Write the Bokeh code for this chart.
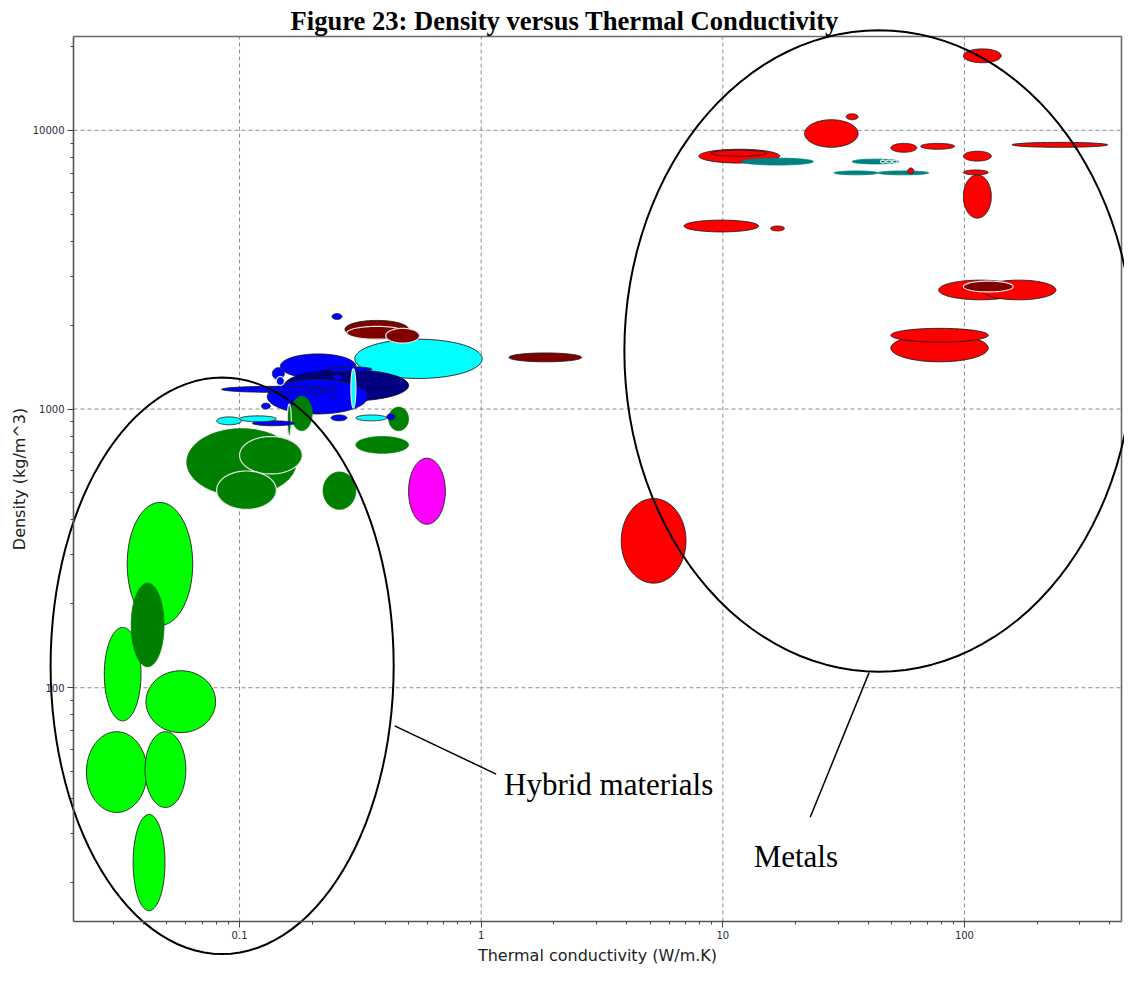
import numpy as np
from bokeh.plotting import figure
from bokeh.models import FixedTicker, PrintfTickFormatter, Label, ColumnDataSource
from bokeh.core.properties import value
from bokeh.embed import file_html
from bokeh.resources import INLINE

# ---------------- data: property ranges of each material bubble ----------------
family = [
    # metals and alloys
    "metal", "metal", "metal", "metal", "metal", "metal_nf", "metal", "metal", "metal",
    "metal_nf", "metal_nf", "metal_nf", "metal_nf", "metal_nf", "metal_nf", "metal",
    "metal", "metal", "metal", "metal", "metal", "metal", "metal", "composite",
    "metal", "metal", "metal",
    # composites, polymers, elastomers, natural materials
    "composite", "composite", "elastomer", "composite", "composite",
    "thermoplastic", "thermoplastic", "thermoset", "thermoplastic", "thermoplastic",
    "thermoplastic", "thermoplastic", "thermoplastic", "thermoplastic", "thermoplastic",
    "thermoplastic", "elastomer", "thermoplastic", "natural", "natural",
    "thermoplastic", "elastomer", "elastomer", "thermoplastic", "elastomer",
    "natural", "thermoplastic", "natural", "natural", "natural", "natural", "natural",
    "glass",
    # foams
    "foam", "foam", "natural", "foam", "foam", "foam", "foam",
]
# thermal conductivity range (W/m.K)
k_lo = [
    99, 32.4, 21.8, 7.96, 8.93, 11.98, 49.6, 65.9, 157.6,
    34.3, 44.9, 47.5, 50.3, 28.9, 43.85, 58.3,
    99, 99, 99, 6.91, 15.76, 78.2, 117.5, 99,
    49.6, 49.6, 3.80,
    0.273, 0.2783, 0.3001, 0.4027, 1.304,
    0.2414, 0.1475, 0.1532, 0.1303, 0.0843,
    0.2280, 0.1367, 0.1420, 0.2436, 0.1905,
    0.2368, 0.2889, 0.1232, 0.1637, 0.1576,
    0.1131, 0.0804, 0.1000, 0.2391, 0.3030,
    0.4143, 0.4065, 0.3030, 0.0605, 0.1000, 0.0804, 0.2217,
    0.5006,
    0.03428, 0.02756, 0.0356, 0.0410, 0.02324, 0.04064, 0.03628,
]
k_hi = [
    142, 36.3, 36.3, 17.2, 15.2, 23.7, 63.5, 91.0, 391.4,
    53.5, 47.1, 49.9, 52.8, 43.85, 71.1, 61.7,
    129.2, 125.5, 129.2, 14.06, 18.0, 173.3, 239.1, 159.1,
    125.5, 125.5, 7.04,
    0.5006, 0.4912, 1.0095, 0.5556, 2.604,
    0.2654, 0.3030, 0.5006, 0.3396, 0.2346,
    0.3526, 0.1532, 0.1532, 0.2654, 0.2238,
    0.2507, 0.3030, 0.1341, 0.1998, 0.1637,
    0.1684, 0.1019, 0.1420, 0.2783, 0.4065,
    0.5006, 0.4385, 0.5006, 0.1716, 0.1817, 0.1420, 0.3030,
    0.7108,
    0.0640, 0.0391, 0.0487, 0.0796, 0.04143, 0.05995, 0.04913,
]
# density range (kg/m^3)
rho_lo = [
    17470, 10910, 8690, 7630, 8075, 7505, 8340, 8550, 8690,
    7570, 7630, 7630, 7630, 6920, 6920, 6976,
    7753, 6920, 4840, 4319, 4355, 2465, 2465, 2630,
    1477, 1738, 237.3,
    1795, 1780, 1287, 1724, 1477,
    2095, 1287, 1067, 960, 1148,
    1362, 1276, 1215, 1266, 1130,
    1085, 1008, 1000, 836, 803,
    871, 878, 900, 907, 907,
    836, 915, 693.7, 489, 584.8, 436.5, 436.5,
    386,
    167.3, 76.05, 118.9, 69.0, 35.7, 37.2, 15.85,
]
rho_hi = [
    19590, 11460, 10910, 8550, 8480, 7945, 8975, 8975, 9050,
    7880, 7816, 7816, 7816, 7147, 7147, 7324,
    8410, 7205, 6920, 4761, 4535, 2900, 2900, 2876,
    1855, 1947, 477.3,
    2079, 1979, 1780, 1947, 1589,
    2200, 1576, 1384, 1276, 1206,
    1418, 1407, 1308, 1329, 1186,
    1225, 1395, 1050, 1111, 1041,
    907, 937, 945, 952, 952,
    1016, 960, 796.6, 850, 796.6, 599.3, 594.5,
    666,
    462, 164.6, 237.3, 115.1, 69.55, 69.55, 35.1,
]

# axis limits of the chart and its tick values
k_limits = (0.02055, 446.7)
rho_limits = (14.5, 21700)
k_major = [0.1, 1, 10, 100]
rho_major = [100, 1000, 10000]

# annotated regions (k range, rho range) and their call-outs
hybrid_k, hybrid_rho = (0.01652, 0.4344), (11.08, 1297)
metals_k, metals_rho = (3.914, 500.8), (114.2, 22860)

# ---------------- styling ----------------
FAMILY_COLORS = {
    "metal": "#ff0000", "metal_nf": "#008080", "composite": "#800000",
    "elastomer": "#00ffff", "thermoplastic": "#0000ff", "thermoset": "#000080",
    "natural": "#008000", "foam": "#00ff00", "glass": "#ff00ff",
}
# outline style per bubble: d = dark edge, l = light edge, n = no edge
edge = list(
    "ddddd" "nddd" "nllln" "nd"
    "dddddddl" "ddd"
    "dldld"
    "ddddd"
    "ddldd"
    "dldnl"
    "dddd" "d"
    "ndnnlln"
    "d"
    "ddnd" "ddd"
)
fill = [FAMILY_COLORS[f] for f in family]
line_col, line_w = [], []
for f, e, c in zip(family, edge, fill):
    if e == "d":
        line_col.append("#1e1e1e" if f != "thermoset" else "#000040")
        line_w.append(0.9)
    elif e == "l":
        line_col.append("#e6e6e6")
        line_w.append(1.2)
    else:
        line_col.append(c)
        line_w.append(0.8)

t = np.linspace(0, 2 * np.pi, 121)


def ellipse(lo_x, hi_x, lo_y, hi_y):
    lx0, lx1 = np.log10(lo_x), np.log10(hi_x)
    ly0, ly1 = np.log10(lo_y), np.log10(hi_y)
    cx, rx = (lx0 + lx1) / 2, (lx1 - lx0) / 2
    cy, ry = (ly0 + ly1) / 2, (ly1 - ly0) / 2
    return list(10 ** (cx + rx * np.cos(t))), list(10 ** (cy + ry * np.sin(t)))


xs, ys = [], []
for a, b, c, d in zip(k_lo, k_hi, rho_lo, rho_hi):
    ex, ey = ellipse(a, b, c, d)
    xs.append(ex)
    ys.append(ey)
src = ColumnDataSource(dict(xs=xs, ys=ys, fill=fill, lc=line_col, lw=line_w))

# ---------------- figure ----------------
# The plotting frame spans the whole canvas so that the call-out ellipses may
# extend past the axes; the axes are pinned to the chart limits.
W, H = 1124, 966
PX_L, PX_R = 73, 1121          # axes box in canvas pixels
PY_T, PY_B = 36, 921
lkx = np.log10(k_limits)
lky = np.log10(rho_limits)
dx = (lkx[1] - lkx[0]) / (PX_R - PX_L)
dy = (lky[1] - lky[0]) / (PY_B - PY_T)
x_rng = (10 ** (lkx[0] - PX_L * dx), 10 ** (lkx[1] + (W - PX_R) * dx))
y_rng = (10 ** (lky[0] - (H - PY_B) * dy), 10 ** (lky[1] + PY_T * dy))

p = figure(width=W, height=H, x_axis_type="log", y_axis_type="log",
           x_range=x_rng, y_range=y_rng,
           output_backend="svg", toolbar_location=None,
           min_border=0, min_border_left=0, min_border_right=0,
           min_border_top=0, min_border_bottom=0)
p.background_fill_color = "white"
p.border_fill_color = "white"
p.outline_line_color = None
p.xgrid.visible = False
p.ygrid.visible = False

# dashed grid inside the axes box
p.segment(x0=k_major, x1=k_major, y0=[rho_limits[0]] * len(k_major),
          y1=[rho_limits[1]] * len(k_major), line_color="#8c8c8c",
          line_dash="4 3", line_width=1)
p.segment(x0=[k_limits[0]] * len(rho_major), x1=[k_limits[1]] * len(rho_major),
          y0=rho_major, y1=rho_major, line_color="#8c8c8c",
          line_dash="4 3", line_width=1)

p.patches("xs", "ys", source=src, fill_color="fill", line_color="lc",
          line_width="lw")

# top and right border of the axes box
p.line(x=[k_limits[0], k_limits[1], k_limits[1]],
       y=[rho_limits[1], rho_limits[1], rho_limits[0]],
       line_color="#6a6a6a", line_width=1.6)

# axes
xmin = [m * 10.0 ** e for e in range(-2, 3) for m in range(2, 10)
        if k_limits[0] <= m * 10.0 ** e <= k_limits[1]]
ymin = [m * 10.0 ** e for e in range(1, 5) for m in range(2, 10)
        if rho_limits[0] <= m * 10.0 ** e <= rho_limits[1]]
p.xaxis.ticker = FixedTicker(ticks=k_major, minor_ticks=xmin)
p.yaxis.ticker = FixedTicker(ticks=rho_major, minor_ticks=ymin)
p.xaxis.fixed_location = rho_limits[0]
p.yaxis.fixed_location = k_limits[0]
p.xaxis.bounds = k_limits
p.yaxis.bounds = rho_limits
for ax in (p.xaxis, p.yaxis):
    ax.formatter = PrintfTickFormatter(format="%g")
    ax.major_tick_out = 6
    ax.major_tick_in = 0
    ax.minor_tick_out = 3
    ax.minor_tick_in = 0
    ax.axis_line_color = "#555555"
    ax.axis_line_width = 1.6
    ax.major_tick_line_color = "#444444"
    ax.minor_tick_line_color = "#444444"
    ax.major_label_text_font = "DejaVu Sans"
    ax.major_label_text_font_size = "10px"
    ax.major_label_text_color = "#2a2a3a"
    ax.major_label_standoff = 3
    ax.axis_label_text_font = "DejaVu Sans"
    ax.axis_label_text_font_size = "16px"
    ax.axis_label_text_font_style = "normal"
    ax.axis_label_text_color = "#222222"
    ax.axis_label_standoff = 4
p.yaxis.axis_label_standoff = 1
p.xaxis.axis_label = "Thermal conductivity (W/m.K)"
p.yaxis.axis_label = "Density (kg/m^3)"

# call-out ellipses, leader lines and texts
ann_x, ann_y = [], []
for kk, rr in ((hybrid_k, hybrid_rho), (metals_k, metals_rho)):
    ex, ey = ellipse(kk[0], kk[1], rr[0], rr[1])
    ann_x.append(ex)
    ann_y.append(ey)
p.multi_line(xs=ann_x, ys=ann_y, line_color="black", line_width=2)
p.segment(x0=[0.4385, 40.3], y0=[73.0, 113.3], x1=[1.153, 23.0], y1=[49.0, 34.3],
          line_color="black", line_width=1.5)
p.text(x=[1.243, 13.42], y=[44.84, 24.77], text=["Hybrid materials", "Metals"],
       text_font=value("Liberation Serif"), text_font_size="31px",
       text_baseline="alphabetic", text_color="black")

# title
p.add_layout(Label(x=290, y=H - 20, x_units="screen", y_units="screen",
                   text="Figure 23: Density versus Thermal Conductivity",
                   text_font="Liberation Serif", text_font_style="bold",
                   text_font_size="26.6px", text_baseline="alphabetic",
                   text_color="black"))

open("out.html", "w").write(file_html(p, INLINE))
